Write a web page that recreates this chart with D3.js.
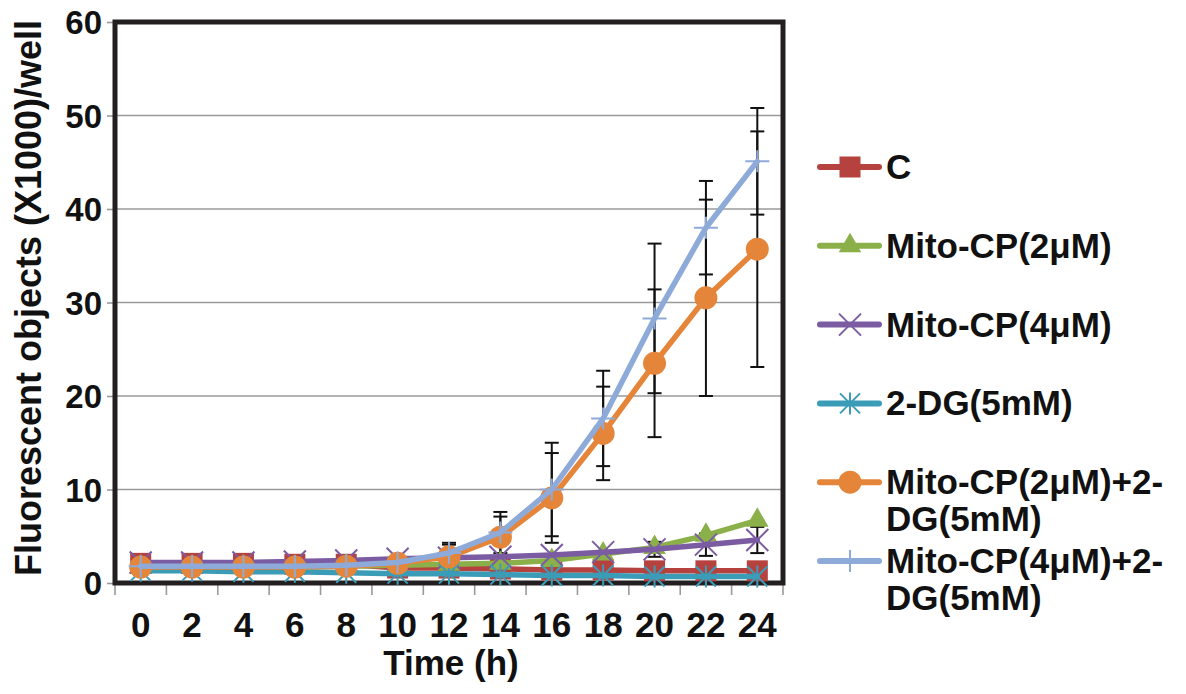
<!DOCTYPE html>
<html>
<head>
<meta charset="utf-8">
<script src="https://cdn.jsdelivr.net/npm/d3@7"></script>
<style>
  html, body { margin: 0; padding: 0; background: #fff; }
  svg { display: block; }
  text { font-family: "Liberation Sans", Arial, sans-serif; font-weight: bold; fill: #111; }
</style>
</head>
<body>
<svg id="chart" width="1186" height="694"></svg>
<script>
// ---- data ----
const times = ["0","2","4","6","8","10","12","14","16","18","20","22","24"];
const yTicks = [0, 10, 20, 30, 40, 50, 60];
const seriesNames = ["C", "Mito-CP(2μM)", "Mito-CP(4μM)", "2-DG(5mM)", "Mito-CP(2μM)+2-DG(5mM)", "Mito-CP(4μM)+2-DG(5mM)"];
const valC      = [2.1, 2.1, 2.1, 2.0, 2.0, 1.6, 1.6, 1.5, 1.4, 1.4, 1.3, 1.3, 1.3];
const valMito2  = [1.7, 1.7, 1.7, 1.7, 1.8, 1.9, 2.0, 2.1, 2.4, 3.1, 3.8, 5.1, 6.7];
const valMito4  = [2.2, 2.2, 2.2, 2.3, 2.4, 2.6, 2.7, 2.8, 3.0, 3.3, 3.6, 4.1, 4.6];
const val2DG    = [1.3, 1.3, 1.2, 1.2, 1.1, 1.0, 1.0, 0.9, 0.8, 0.8, 0.7, 0.7, 0.7];
const valMito2DG = [1.7, 1.7, 1.7, 1.7, 1.8, 2.1, 2.8, 4.9, 9.1, 16.0, 23.5, 30.5, 35.7];
const valMito4DG = [1.8, 1.8, 1.8, 1.8, 1.9, 2.2, 3.2, 5.4, 10.0, 17.6, 28.3, 38.0, 45.1];
const errMito4   = [0, 0, 0, 0, 0, 0, 0, 0, 0, 0, 0.8, 1.2, 1.4];
const errMito2DG = [0, 0, 0, 0, 0, 0.3, 1.3, 2.2, 4.8, 5.0, 7.9, 10.5, 12.6];
const errMito4DG = [0, 0, 0, 0, 0, 0.3, 1.1, 2.2, 5.0, 5.1, 8.0, 5.0, 5.7];

// ---- setup ----
const svg = d3.select("#chart");
const L = 115, R = 783, T = 22, B = 583;
const x = d3.scaleBand().domain(times).range([L, R]).padding(0);
const y = d3.scaleLinear().domain([0, 60]).range([B, T]);
const cx = t => x(t) + x.bandwidth() / 2;

const colors = ["#b5423f", "#8bb04a", "#7b5ca3", "#3b9cb8", "#e5853a", "#8eaad8"];
const markers = ["square", "triangle", "x", "star", "circle", "plus"];
const values = [valC, valMito2, valMito4, val2DG, valMito2DG, valMito4DG];
const errors = [null, null, errMito4, null, errMito2DG, errMito4DG];
const FONT = '"Liberation Sans", Arial, sans-serif';

// gridlines
svg.append("g").selectAll("line").data(yTicks.filter(v => v > 0 && v < 60)).join("line")
  .attr("x1", L).attr("x2", R).attr("y1", d => y(d)).attr("y2", d => y(d))
  .attr("stroke", "#9a9a9a").attr("stroke-width", 1.6);

// y axis
const yAxis = svg.append("g").attr("transform", `translate(${L},0)`)
  .call(d3.axisLeft(y).tickValues(yTicks).tickSize(8).tickPadding(5));
yAxis.select(".domain").remove();
yAxis.selectAll(".tick line").attr("stroke", "#9a9a9a").attr("stroke-width", 1.6);
yAxis.selectAll(".tick text").attr("font-size", 33).attr("dy", "0.36em")
  .style("font-family", FONT).style("font-weight", "bold").attr("fill", "#111");

// x axis (ticks at band boundaries)
const xg = svg.append("g");
const bounds = times.map(t => x(t)).concat([R]);
xg.selectAll("line").data(bounds).join("line")
  .attr("x1", d => d).attr("x2", d => d).attr("y1", B).attr("y2", B + 12)
  .attr("stroke", "#9a9a9a").attr("stroke-width", 1.6);
const xAxis = svg.append("g").attr("transform", `translate(0,${B})`)
  .call(d3.axisBottom(x).tickSize(0).tickPadding(0));
xAxis.select(".domain").remove();
xAxis.selectAll(".tick text").attr("y", 54).attr("dy", 0).attr("font-size", 35)
  .style("font-family", FONT).style("font-weight", "bold").attr("fill", "#111");

// frame
svg.append("rect").attr("x", L).attr("y", T).attr("width", R - L).attr("height", B - T)
  .attr("fill", "none").attr("stroke", "#231f20").attr("stroke-width", 5);

// axis titles
svg.append("text").attr("x", (L + R) / 2 + 2).attr("y", 675).attr("text-anchor", "middle")
  .attr("font-size", 35).text("Time (h)");
svg.append("text").attr("transform", "translate(41,298) rotate(-90)").attr("text-anchor", "middle")
  .attr("font-size", 36).text("Fluorescent objects (X1000)/well");

// marker drawing
function drawMarker(g, type, color) {
  if (type === "square") {
    g.append("rect").attr("x", -10.5).attr("y", -10.5).attr("width", 21).attr("height", 21).attr("fill", color);
  } else if (type === "triangle") {
    g.append("path").attr("d", d3.symbol().type(d3.symbolTriangle).size(220)()).attr("fill", color);
  } else if (type === "circle") {
    g.append("circle").attr("r", 11.5).attr("fill", color);
  } else if (type === "x") {
    g.append("path").attr("d", "M-11,-11L11,11M-11,11L11,-11").attr("stroke", color).attr("stroke-width", 2).attr("fill", "none");
  } else if (type === "star") {
    g.append("path").attr("d", "M-10,-10L10,10M-10,10L10,-10M0,-11L0,11").attr("stroke", color).attr("stroke-width", 2).attr("fill", "none");
  } else if (type === "plus") {
    g.append("path").attr("d", "M-12,0L12,0M0,-11L0,11").attr("stroke", color).attr("stroke-width", 2).attr("fill", "none");
  }
}

// error bars
const eg = svg.append("g");
errors.forEach((err, si) => {
  if (!err) return;
  times.forEach((t, i) => {
    const e = err[i];
    if (!e) return;
    const v = values[si][i];
    const xx = cx(t);
    eg.append("line").attr("x1", xx).attr("x2", xx).attr("y1", y(v + e)).attr("y2", y(v - e))
      .attr("stroke", "#111").attr("stroke-width", 2);
    [v + e, v - e].forEach(w => {
      eg.append("line").attr("x1", xx - 7).attr("x2", xx + 7).attr("y1", y(w)).attr("y2", y(w))
        .attr("stroke", "#111").attr("stroke-width", 2);
    });
  });
});

// series
const line = d3.line().x((d, i) => cx(times[i])).y(d => y(d));
values.forEach((vals, si) => {
  const g = svg.append("g");
  g.append("path").attr("d", line(vals)).attr("fill", "none").attr("stroke", colors[si])
    .attr("stroke-width", 5.5).attr("stroke-linejoin", "round").attr("stroke-linecap", "round");
  vals.forEach((v, i) => {
    const mg = g.append("g").attr("transform", `translate(${cx(times[i])},${y(v)})`);
    drawMarker(mg, markers[si], colors[si]);
  });
});

// legend
const legendLines = [["C"], ["Mito-CP(2μM)"], ["Mito-CP(4μM)"], ["2-DG(5mM)"], ["Mito-CP(2μM)+2-", "DG(5mM)"], ["Mito-CP(4μM)+2-", "DG(5mM)"]];
const leg = svg.append("g");
seriesNames.forEach((name, i) => {
  const ly = 167 + i * 78.8;
  const g = leg.append("g");
  g.append("line").attr("x1", 820).attr("x2", 879).attr("y1", ly).attr("y2", ly)
    .attr("stroke", colors[i]).attr("stroke-width", 6).attr("stroke-linecap", "round");
  const mg = g.append("g").attr("transform", `translate(850,${ly})`);
  drawMarker(mg, markers[i], colors[i]);
  const txt = g.append("text").attr("x", 886).attr("y", ly + 12).attr("font-size", 35);
  legendLines[i].forEach((s, k) => {
    txt.append("tspan").attr("x", 886).attr("dy", k === 0 ? 0 : 37).text(s);
  });
});
</script>
</body>
</html>
